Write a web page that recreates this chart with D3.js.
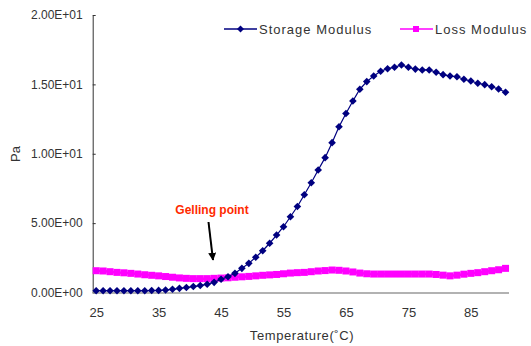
<!DOCTYPE html>
<html>
<head>
<meta charset="utf-8">
<script src="https://cdn.jsdelivr.net/npm/d3@7"></script>
<style>
  html, body { margin: 0; padding: 0; background: #fff; }
  svg { display: block; font-family: "Liberation Sans", Arial, sans-serif; }
</style>
</head>
<body>
<svg id="chart" width="531" height="346"></svg>
<script>
// Temperature categories (°C), one per measurement
const categories = ["25.0","26.1","27.2","28.3","29.4","30.6","31.7","32.8","33.9","35.0",
  "36.1","37.2","38.3","39.4","40.6","41.7","42.8","43.9","45.0","46.1",
  "47.2","48.3","49.4","50.6","51.7","52.8","53.9","55.0","56.1","57.2",
  "58.3","59.4","60.6","61.7","62.8","63.9","65.0","66.1","67.2","68.3",
  "69.4","70.6","71.7","72.8","73.9","75.0","76.1","77.2","78.3","79.4",
  "80.6","81.7","82.8","83.9","85.0","86.1","87.2","88.3","89.4","90.6"];

const storageModulus = [0.13,0.13,0.13,0.13,0.13,0.13,0.13,0.13,0.14,0.15,
  0.18,0.23,0.30,0.36,0.43,0.50,0.60,0.73,0.95,1.14,
  1.38,1.74,2.10,2.54,3.01,3.55,4.14,4.74,5.46,6.20,
  7.05,7.91,8.83,9.72,10.80,11.95,12.90,13.80,14.65,15.20,
  15.60,15.95,16.13,16.23,16.40,16.23,16.10,16.04,16.04,15.87,
  15.70,15.60,15.55,15.37,15.24,15.08,14.98,14.83,14.67,14.43];

const lossModulus = [1.57,1.55,1.50,1.45,1.42,1.38,1.33,1.28,1.24,1.20,
  1.15,1.10,1.05,1.02,1.00,1.00,1.00,1.02,1.04,1.06,
  1.10,1.13,1.16,1.20,1.24,1.27,1.30,1.35,1.40,1.43,
  1.45,1.50,1.55,1.58,1.62,1.60,1.55,1.48,1.40,1.35,
  1.33,1.33,1.33,1.33,1.33,1.33,1.33,1.33,1.33,1.30,
  1.25,1.20,1.25,1.32,1.38,1.43,1.50,1.57,1.64,1.74];

const xTicks = ["25.0","35.0","45.0","55.0","65.0","75.0","85.0"];
const xTickLabels = ["25","35","45","55","65","75","85"];
const yTicks = [0, 5, 10, 15, 20];
const yTickLabels = ["0.00E+00","5.00E+00","1.00E+01","1.50E+01","2.00E+01"];
const seriesNames = ["Storage Modulus", "Loss Modulus"];

const svg = d3.select("#chart");
const pL = 92.7, pR = 509, pT = 15, pB = 292.5;
const textColor = "#333";

const x = d3.scalePoint().domain(categories).range([pL, pR]).padding(0.5);
const y = d3.scaleLinear().domain([0, 20]).range([pB, pT]);

// Y axis
const yAxis = d3.axisLeft(y).tickValues(yTicks)
  .tickFormat((d, i) => yTickLabels[i]).tickSizeInner(-3).tickSizeOuter(0).tickPadding(10);
const gy = svg.append("g").attr("transform", `translate(${pL},0)`).call(yAxis);
gy.select(".domain").attr("stroke", "#333");
gy.selectAll(".tick line").attr("stroke", "#333");
gy.selectAll(".tick text").attr("fill", textColor).style("font-size", "12px")
  .style("font-family", "'Liberation Sans', Arial, sans-serif");

// X axis
const xAxis = d3.axisBottom(x).tickValues(xTicks)
  .tickFormat((d) => xTickLabels[xTicks.indexOf(d)]).tickSize(0);
const gx = svg.append("g").attr("transform", `translate(0,${pB})`).call(xAxis);
gx.select(".domain").remove();
gx.append("line").attr("x1", pL).attr("x2", pR).attr("y1", 0.5).attr("y2", 0.5)
  .attr("stroke", "#999").attr("stroke-width", 1.3);
gx.selectAll(".tick text").attr("fill", textColor).attr("dy", null).attr("y", 24)
  .style("font-size", "13px").style("font-family", "'Liberation Sans', Arial, sans-serif");

// Axis titles
svg.append("text").attr("x", 302).attr("y", 340).attr("text-anchor", "middle")
  .attr("fill", textColor).style("font-size", "13px").style("letter-spacing", "0.6px")
  .text("Temperature(˚C)");
svg.append("text").attr("transform", "translate(20,154) rotate(-90)").attr("text-anchor", "middle")
  .attr("fill", textColor).style("font-size", "13px").text("Pa");

// Loss modulus (magenta)
const lossColor = "#ff00ff", storColor = "#000080";
const lineGen = (vals) => d3.line().x((d, i) => x(categories[i])).y(d => y(d))(vals);
svg.append("path").attr("d", lineGen(lossModulus)).attr("fill", "none")
  .attr("stroke", lossColor).attr("stroke-width", 2.5);
svg.append("g").selectAll("rect").data(lossModulus).join("rect")
  .attr("x", (d, i) => x(categories[i]) - 3.5).attr("y", d => y(d) - 3.5)
  .attr("width", 7).attr("height", 7).attr("fill", lossColor);

// Storage modulus (navy)
svg.append("path").attr("d", lineGen(storageModulus)).attr("fill", "none")
  .attr("stroke", storColor).attr("stroke-width", 1.2);
const diamond = (cx, cy, r) => `M${cx},${cy - r}L${cx + r},${cy}L${cx},${cy + r}L${cx - r},${cy}Z`;
svg.append("g").selectAll("path").data(storageModulus).join("path")
  .attr("d", (d, i) => diamond(x(categories[i]), y(d), 3.8)).attr("fill", storColor);

// Legend
const leg = svg.append("g");
leg.append("line").attr("x1", 224).attr("x2", 257).attr("y1", 29).attr("y2", 29)
  .attr("stroke", storColor).attr("stroke-width", 1.5);
leg.append("path").attr("d", diamond(240.5, 29, 3.5)).attr("fill", storColor);
leg.append("text").attr("x", 259).attr("y", 34).attr("fill", textColor)
  .style("font-size", "13px").style("letter-spacing", "1px").text(seriesNames[0]);
leg.append("line").attr("x1", 400).attr("x2", 433).attr("y1", 29).attr("y2", 29)
  .attr("stroke", lossColor).attr("stroke-width", 1.5);
leg.append("rect").attr("x", 413).attr("y", 26).attr("width", 6).attr("height", 6).attr("fill", lossColor);
leg.append("text").attr("x", 435).attr("y", 34).attr("fill", textColor)
  .style("font-size", "13px").style("letter-spacing", "1px").text(seriesNames[1]);

// Annotation
svg.append("text").attr("x", 212).attr("y", 214).attr("text-anchor", "middle")
  .attr("fill", "#ff2a00").style("font-size", "12px").style("font-weight", "bold")
  .text("Gelling point");
svg.append("defs").append("marker").attr("id", "ah").attr("viewBox", "0 0 10 10")
  .attr("refX", 9).attr("refY", 5).attr("markerWidth", 4).attr("markerHeight", 4)
  .attr("orient", "auto").append("path").attr("d", "M0,0L10,5L0,10Z").attr("fill", "#000");
svg.append("line").attr("x1", 208.5).attr("y1", 222).attr("x2", 213).attr("y2", 260)
  .attr("stroke", "#000").attr("stroke-width", 2).attr("marker-end", "url(#ah)");
</script>
</body>
</html>
